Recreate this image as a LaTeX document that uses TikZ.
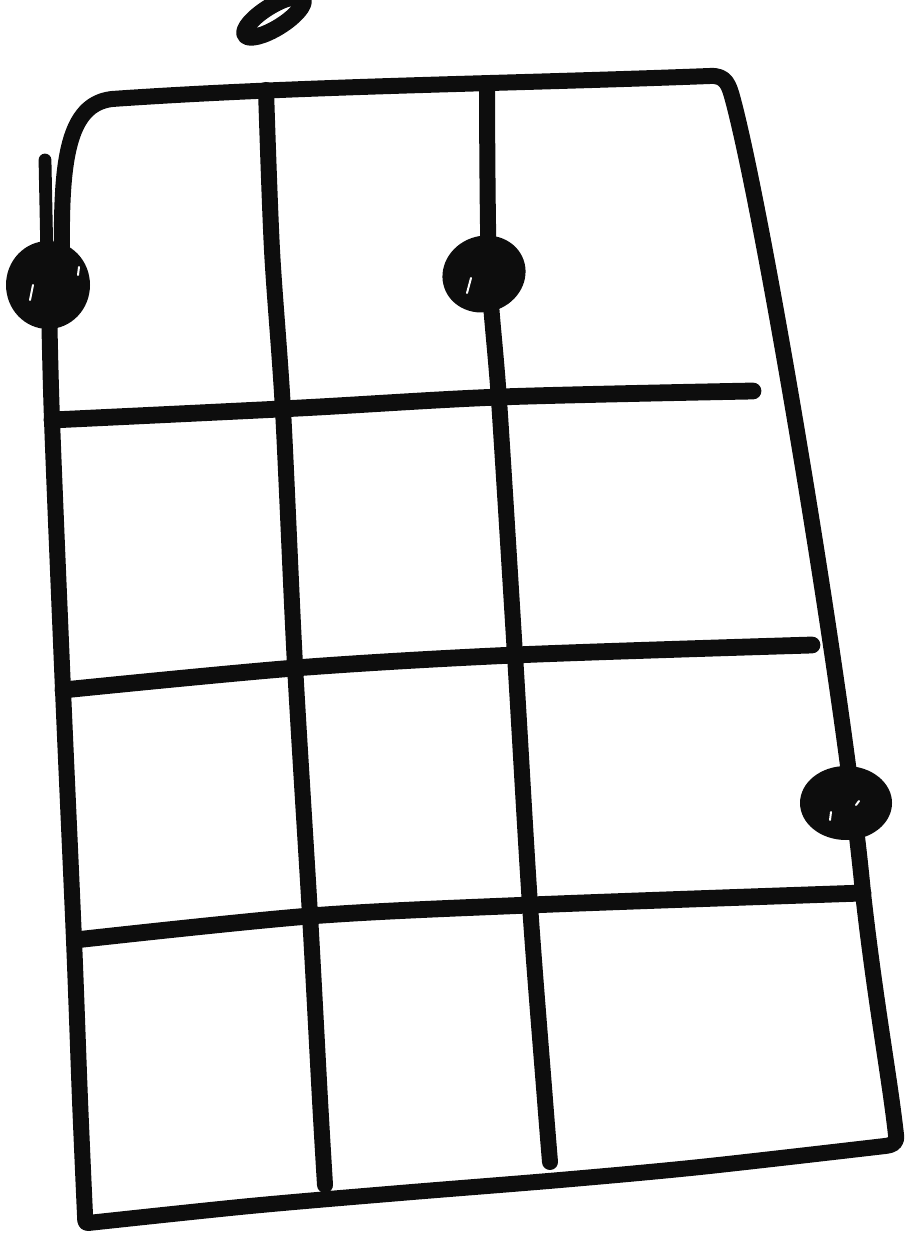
\documentclass[tikz,border=0pt]{standalone}
\begin{document}
\begin{tikzpicture}[x=0.5pt,y=-0.5pt,
  ink/.style={draw=black!95, line width=8pt, line cap=round, line join=round},
  fretline/.style={ink, line width=8.4pt},
  dotmark/.style={fill=black!95},
  gleam/.style={draw=white, line width=1pt, line cap=round}]
\useasboundingbox (0,0) rectangle (904,1234);
\begin{scope}
\clip (0,0) rectangle (904,1234);
% fragment of the letter above
\draw[ink, line width=8.4pt, rotate around={32:(274,17)}] (274,17) ellipse [x radius=34, y radius=11];
\end{scope}
% frame
\draw[ink]
  (62,250) .. controls (61,160) and (68,104) .. (112,99)
  .. controls (300,86) and (500,84) .. (710,76)
  .. controls (726,75) and (729,85) .. (733,100)
  .. controls (765,220) and (845,700) .. (863,893)
  .. controls (875,1000) and (890,1080) .. (896,1135)
  .. controls (897,1143) and (893,1145) .. (885,1146)
  -- plot[smooth] coordinates {(885,1146) (700,1167) (560,1180) (400,1193) (250,1206) (88,1223)}
  .. controls (85,1223) and (85,1220) .. (85,1215)
  -- plot[smooth] coordinates {(85,1215) (80,1100) (74,940) (63,690) (52,420) (49,300)};
% left string (upper part)
\draw[ink, line width=6.4pt] (45,160) -- (47,260);
% strings
\draw[ink] plot[smooth] coordinates {(266,90) (272,250) (283,410) (295,665) (310,915) (320,1100) (325,1185)};
\draw[ink] plot[smooth] coordinates {(487,90) (489,270) (499,400) (515,655) (530,905) (545,1100) (550,1162)};
% frets
\draw[fretline] plot[smooth] coordinates {(52,420) (300,408) (500,397) (753,391)};
\draw[fretline] plot[smooth] coordinates {(63,690) (295,668) (515,655) (812,645)};
\draw[fretline] plot[smooth] coordinates {(75,940) (310,916) (530,905) (863,893)};
% finger dots
\fill[dotmark] (48,285) ellipse [x radius=42, y radius=44];
\fill[dotmark, rotate around={20:(484,274)}] (484,274) ellipse [x radius=42, y radius=38];
\fill[dotmark] (846,803) ellipse [x radius=46, y radius=37];
% small gleams
\draw[gleam] (30,300) -- (33,285);
\draw[gleam] (78,275) -- (79,267);
\draw[gleam] (467,293) -- (471,278);
\draw[gleam] (830,820) -- (831,812);
\draw[gleam] (856,805) -- (859,801);
\end{tikzpicture}
\end{document}
